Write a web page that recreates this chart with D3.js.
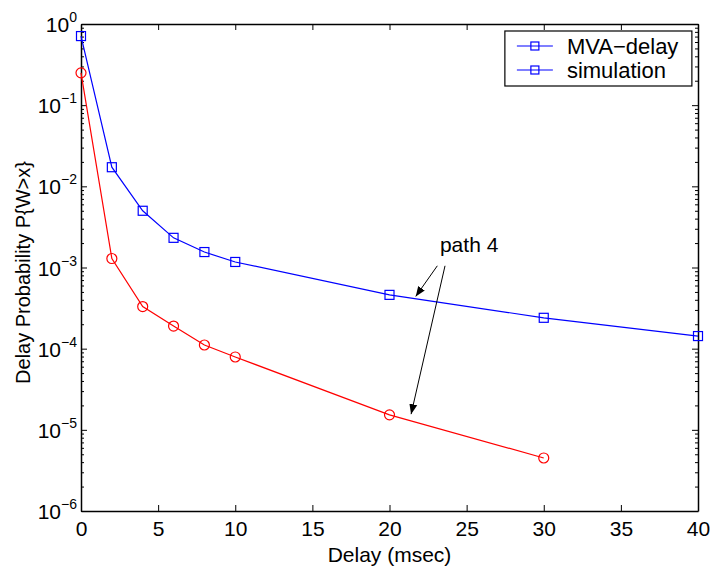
<!DOCTYPE html>
<html>
<head>
<meta charset="utf-8">
<script src="https://cdn.jsdelivr.net/npm/d3@7"></script>
<style>
  body { margin: 0; background: #fff; }
  text { font-family: "Liberation Sans", Arial, Helvetica, sans-serif; fill: #000; }
</style>
</head>
<body>
<div id="chart"></div>
<script>
// Data
const delays = [0, 2, 4, 6, 8, 10, 20, 30, 40];
const mvaDelay = [0.71, 0.0172, 0.0050, 0.00232, 0.00155, 0.00117, 0.00046, 0.00024, 0.000143];
const simDelays = [0, 2, 4, 6, 8, 10, 20, 30];
const simulation = [0.25, 0.00129, 0.00033, 0.00019, 0.000111, 0.000079, 0.0000153, 0.0000045];
const xTicks = [0, 5, 10, 15, 20, 25, 30, 35, 40];
const yDecades = [-6, -5, -4, -3, -2, -1, 0];
const legendLabels = ["MVA\u2212delay", "simulation"];

const W = 714, H = 567;
const margin = { top: 24, right: 16, bottom: 56, left: 81 };
const width = W - margin.left - margin.right;
const height = H - margin.top - margin.bottom;

const svg = d3.select("#chart").append("svg")
    .attr("width", W)
    .attr("height", H);

const g = svg.append("g")
    .attr("transform", `translate(${margin.left},${margin.top})`);

// Scales
const x = d3.scaleLinear().domain([0, 40]).range([0, width]);
const y = d3.scaleLog().domain([1e-6, 1]).range([height, 0]);

// minor ticks 2..9 for each decade
const minor = [];
yDecades.slice(0, -1).forEach(e => {
    for (let k = 2; k <= 9; k++) minor.push(k * Math.pow(10, e));
});

// Axes - matlab style, ticks inward on all four sides
const axisColor = "#000";
g.append("g")
    .attr("transform", `translate(0,${height})`)
    .call(d3.axisBottom(x).tickValues(xTicks).tickSizeInner(-6).tickSizeOuter(0).tickPadding(10).tickFormat(d3.format("d")))
    .call(a => a.selectAll("text").attr("font-size", 21).attr("font-family", null));

g.append("g")
    .call(d3.axisTop(x).tickValues(xTicks).tickSizeInner(-6).tickSizeOuter(0).tickFormat(""));

g.append("g")
    .call(d3.axisLeft(y).tickValues(yDecades.map(e => Math.pow(10, e))).tickSizeInner(-6).tickSizeOuter(0).tickFormat(""));

g.append("g")
    .call(d3.axisLeft(y).tickValues(minor).tickSizeInner(-3).tickSizeOuter(0).tickFormat(""))
    .select(".domain").remove();

g.append("g")
    .attr("transform", `translate(${width},0)`)
    .call(d3.axisRight(y).tickValues(yDecades.map(e => Math.pow(10, e))).tickSizeInner(-6).tickSizeOuter(0).tickFormat(""));

g.append("g")
    .attr("transform", `translate(${width},0)`)
    .call(d3.axisRight(y).tickValues(minor).tickSizeInner(-3).tickSizeOuter(0).tickFormat(""))
    .select(".domain").remove();

g.selectAll(".domain").attr("stroke", axisColor).attr("stroke-width", 1.5);
g.selectAll(".tick line").attr("stroke", axisColor).attr("stroke-width", 1);

// y tick labels as 10^e
yDecades.forEach(e => {
    const t = g.append("text")
        .attr("x", -4)
        .attr("y", y(Math.pow(10, e)) + 8)
        .attr("text-anchor", "end")
        .attr("font-size", 21);
    t.append("tspan").text("10");
    t.append("tspan")
        .attr("dy", -10)
        .attr("font-size", 14)
        .text(e === 0 ? "0" : "\u2212" + Math.abs(e));
});

// Lines
const line = d3.line().x(d => x(d[0])).y(d => y(d[1]));
const mvaPts = delays.map((d, i) => [d, mvaDelay[i]]);
const simPts = simDelays.map((d, i) => [d, simulation[i]]);

g.append("path")
    .datum(mvaPts)
    .attr("fill", "none")
    .attr("stroke", "#0000ff")
    .attr("stroke-width", 1.2)
    .attr("d", line);

g.append("path")
    .datum(simPts)
    .attr("fill", "none")
    .attr("stroke", "#ff0000")
    .attr("stroke-width", 1.2)
    .attr("d", line);

g.selectAll(".sq")
    .data(mvaPts)
    .join("rect")
    .attr("x", d => x(d[0]) - 4.5)
    .attr("y", d => y(d[1]) - 4.5)
    .attr("width", 9)
    .attr("height", 9)
    .attr("fill", "none")
    .attr("stroke", "#0000ff")
    .attr("stroke-width", 1.2);

g.selectAll(".ci")
    .data(simPts)
    .join("circle")
    .attr("cx", d => x(d[0]))
    .attr("cy", d => y(d[1]))
    .attr("r", 5)
    .attr("fill", "none")
    .attr("stroke", "#ff0000")
    .attr("stroke-width", 1.2);

// Annotation "path 4" with arrows
const defs = svg.append("defs");
defs.append("marker")
    .attr("id", "arrow")
    .attr("viewBox", "0 0 10 10")
    .attr("refX", 10).attr("refY", 5)
    .attr("markerWidth", 10).attr("markerHeight", 10)
    .attr("markerUnits", "userSpaceOnUse")
    .attr("orient", "auto")
    .append("path")
    .attr("d", "M0,1 L10,5 L0,9 Z")
    .attr("fill", "#000");

g.append("text")
    .attr("x", x(23.27))
    .attr("y", y(1.9e-3) + 7)
    .attr("font-size", 21)
    .text("path 4");

const arrows = [
    [[23.1, 6.1e-4 * 1.72], [21.7, 4.4e-4]],
    [[23.6, 6.1e-4 * 1.72], [21.4, 1.56e-5]]
];
arrows.forEach(a => {
    g.append("line")
        .attr("x1", x(a[0][0])).attr("y1", y(a[0][1]))
        .attr("x2", x(a[1][0])).attr("y2", y(a[1][1]))
        .attr("stroke", "#000")
        .attr("stroke-width", 1)
        .attr("marker-end", "url(#arrow)");
});

// Legend
const leg = g.append("g").attr("transform", `translate(${x(27.48)},7)`);
leg.append("rect")
    .attr("width", 187)
    .attr("height", 55)
    .attr("fill", "#fff")
    .attr("stroke", "#000")
    .attr("stroke-width", 1.2);
legendLabels.forEach((lab, i) => {
    const ly = 15 + i * 24;
    leg.append("line")
        .attr("x1", 12).attr("x2", 48)
        .attr("y1", ly).attr("y2", ly)
        .attr("stroke", "#0000ff").attr("stroke-width", 1.2);
    leg.append("rect")
        .attr("x", 26).attr("y", ly - 4)
        .attr("width", 8).attr("height", 8)
        .attr("fill", "none")
        .attr("stroke", "#0000ff").attr("stroke-width", 1.2);
    leg.append("text")
        .attr("x", 62).attr("y", ly + 8)
        .attr("font-size", 22)
        .text(lab);
});

// Axis labels
svg.append("text")
    .attr("x", margin.left + width / 2)
    .attr("y", 562)
    .attr("text-anchor", "middle")
    .attr("font-size", 21)
    .text("Delay (msec)");

svg.append("text")
    .attr("transform", `translate(30,${margin.top + height / 2 + 5}) rotate(-90)`)
    .attr("text-anchor", "middle")
    .attr("font-size", 20)
    .text("Delay Probability P{W>x}");
</script>
</body>
</html>
